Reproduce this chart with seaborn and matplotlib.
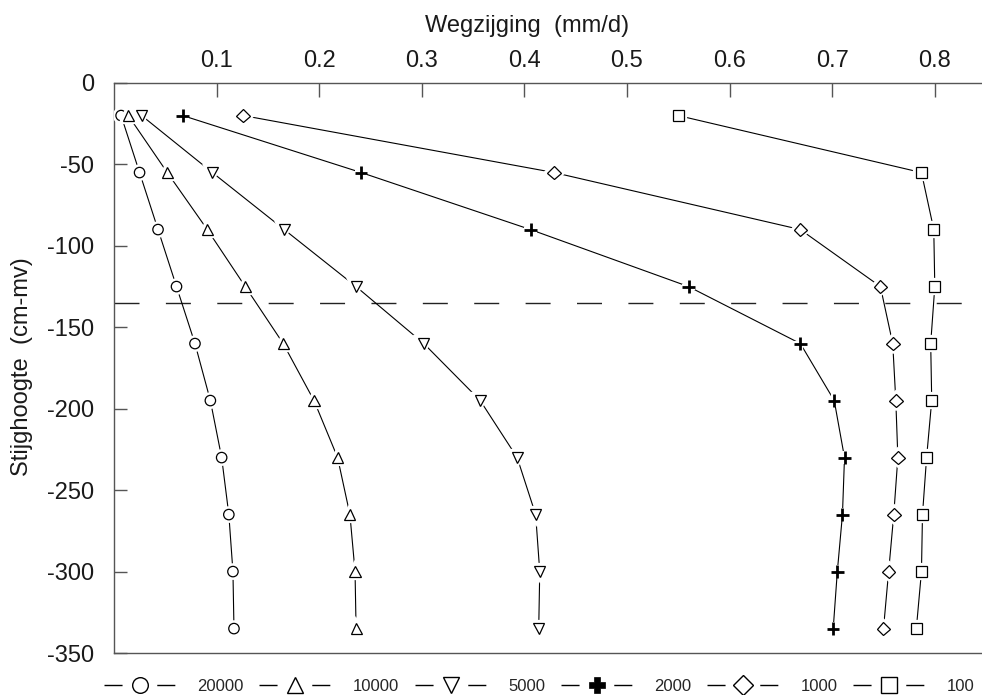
import pandas as pd
import matplotlib.pyplot as plt
import matplotlib.patheffects as pe
import seaborn as sns
from matplotlib.lines import Line2D

# stijghoogte niveaus (cm-mv)
depth = [-20, -55, -90, -125, -160, -195, -230, -265, -300, -335]

# wegzijging (mm/d) per weerstandswaarde
w_20000 = [0.007, 0.025, 0.043, 0.061, 0.079, 0.094, 0.105, 0.112, 0.116, 0.117]
w_10000 = [0.014, 0.052, 0.091, 0.128, 0.165, 0.195, 0.218, 0.230, 0.235, 0.236]
w_5000 = [0.027, 0.096, 0.166, 0.236, 0.302, 0.357, 0.393, 0.411, 0.415, 0.414]
w_2000 = [0.067, 0.241, 0.406, 0.560, 0.669, 0.702, 0.712, 0.710, 0.705, 0.701]
w_1000 = [0.126, 0.429, 0.669, 0.747, 0.759, 0.762, 0.764, 0.760, 0.755, 0.750]
w_100 = [0.550, 0.787, 0.799, 0.800, 0.796, 0.797, 0.792, 0.788, 0.787, 0.782]

labels = ['20000', '10000', '5000', '2000', '1000', '100']
series = [w_20000, w_10000, w_5000, w_2000, w_1000, w_100]

x_ticks = [0.1, 0.2, 0.3, 0.4, 0.5, 0.6, 0.7, 0.8]
y_ticks = [0, -50, -100, -150, -200, -250, -300, -350]
dash_level = -135


def main():
    sns.set_style('white')
    plt.rcParams['font.family'] = ['Liberation Sans', 'DejaVu Sans']

    fig = plt.figure(figsize=(9.82, 6.95), dpi=100)
    ax = fig.add_axes([0.116, 0.0604, 0.884, 0.8202])

    # markers: (marker, size, edge width, face)
    styles = {
        '20000': ('o', 7.5, 0.9, 'white'),
        '10000': ('^', 8, 0.9, 'white'),
        '5000': ('v', 8, 0.9, 'white'),
        '2000': ('+', 9, 2.0, 'black'),
        '1000': ('D', 7, 0.9, 'white'),
        '100': ('s', 8, 0.9, 'white'),
    }

    ax.axhline(dash_level, color='#222222', linewidth=1.0, dashes=(18, 19), zorder=2)

    halo = [pe.Stroke(linewidth=4.5, foreground='white'), pe.Normal()]
    for lab, vals in zip(labels, series):
        df = pd.DataFrame({'x': vals, 'y': depth})
        m, ms, mew, fc = styles[lab]
        # lijn
        sns.lineplot(data=df, x='x', y='y', sort=False, estimator=None, ax=ax,
                     color='black', linewidth=0.8, zorder=3)
        # markers met witte rand zodat de lijn even onderbroken lijkt
        sns.lineplot(data=df, x='x', y='y', sort=False, estimator=None, ax=ax,
                     color='black', linestyle='', marker=m, markersize=ms,
                     markeredgewidth=mew, markerfacecolor=fc,
                     markeredgecolor='black', zorder=4, path_effects=halo)

    ax.set_xlim(0, 0.846)
    ax.set_ylim(-350, 0)
    ax.set_xticks(x_ticks)
    ax.set_xticklabels([f'{t:.1f}' for t in x_ticks])
    ax.set_yticks(y_ticks)
    ax.set_yticklabels([str(t) for t in y_ticks])

    ax.tick_params(axis='x', top=True, bottom=False, labeltop=True, labelbottom=False,
                   direction='in', length=10, width=1, color='#555555',
                   labelsize=17, pad=8, labelcolor='#1a1a1a')
    ax.tick_params(axis='y', left=True, direction='in', length=9, width=1,
                   color='#555555', labelsize=17, pad=14, labelcolor='#1a1a1a')

    for side in ['top', 'left', 'bottom']:
        ax.spines[side].set_color('#555555')
        ax.spines[side].set_linewidth(1.0)
    ax.spines['right'].set_visible(False)

    ax.xaxis.set_label_position('top')
    ax.set_xlabel('Wegzijging  (mm/d)', fontsize=17, color='#1a1a1a')
    ax.xaxis.set_label_coords(0.476, 1.089)
    ax.set_ylabel('Stijghoogte  (cm-mv)', fontsize=17, color='#1a1a1a')
    ax.yaxis.set_label_coords(-0.093, 0.503)

    handles = []
    for lab in labels:
        m, ms, mew, fc = styles[lab]
        if lab == '2000':
            handles.append(Line2D([], [], color='black', linewidth=1.0,
                                  linestyle=(0, (13, 25)), marker='P',
                                  markersize=11, markerfacecolor='black',
                                  markeredgecolor='black', markeredgewidth=0.5))
        else:
            handles.append(Line2D([], [], color='black', linewidth=1.0,
                                  linestyle=(0, (13, 25)), marker=m,
                                  markersize=ms * 1.5, markerfacecolor='white',
                                  markeredgecolor='black', markeredgewidth=1.0))
    fig.legend(handles, labels, loc='center', bbox_to_anchor=(0.549, 0.012),
               ncol=6, frameon=False, fontsize=12, handlelength=4.3,
               handletextpad=1.3, columnspacing=0.95)

    fig.savefig('out.png', dpi=100)
    plt.close(fig)


if __name__ == '__main__':
    main()
